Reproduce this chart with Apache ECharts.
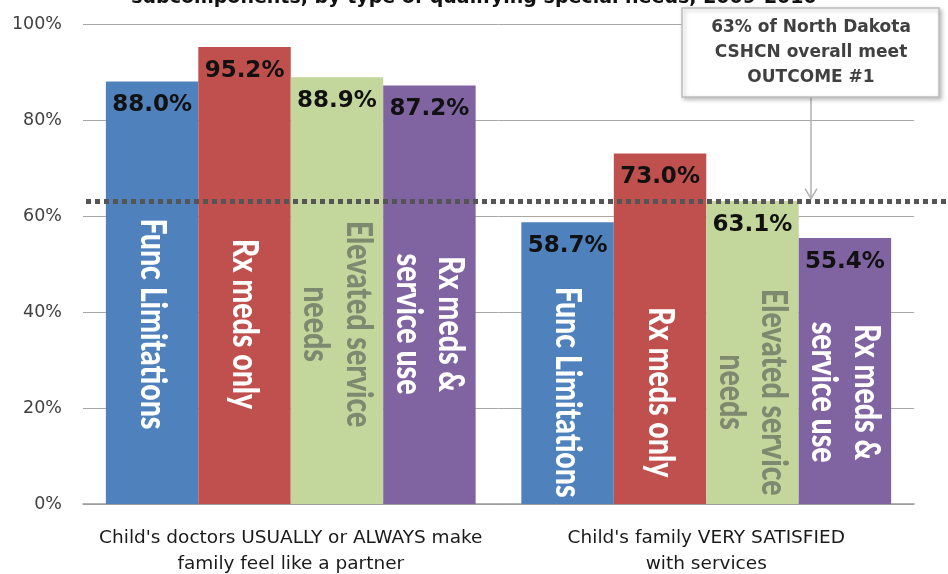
<!DOCTYPE html>
<html>
<head>
<meta charset="utf-8">
<script src="https://cdn.jsdelivr.net/npm/echarts@6/dist/echarts.min.js"></script>
<style>html,body{margin:0;padding:0;background:#fff;}#chart{width:948px;height:574px;}</style>
</head>
<body>
<div id="chart"></div>
<script>
// ---- data ----
var categories = ["Child's doctors USUALLY or ALWAYS make\nfamily feel like a partner", "Child's family VERY SATISFIED\nwith services"];
var seriesNames = ['Func Limitations', 'Rx meds only', 'Elevated service\nneeds', 'Rx meds &\nservice use'];
var funcLimitations = [88.0, 58.7];
var rxMedsOnly = [95.2, 73.0];
var elevatedService = [88.9, 63.1];
var rxMedsService = [87.2, 55.4];
var overallValue = 63;
var titleText = 'subcomponents, by type of qualifying special needs, 2009-2010';
var calloutLines = ['63% of North Dakota', 'CSHCN overall meet', 'OUTCOME #1'];
var yTicks = [0, 20, 40, 60, 80, 100];

// ---- styling ----
var colors = ['#4f81bd', '#c0504d', '#c3d69b', '#8064a2'];
var nameColors = ['#ffffff', '#ffffff', '#7d8a70', '#ffffff'];
var gapPct = 0.11;
var nameCenter = [37.5, 23.3];

var chart = echarts.init(document.getElementById('chart'), null, {renderer: 'canvas'});
var allValues = [funcLimitations, rxMedsOnly, elevatedService, rxMedsService];

var barSeries = allValues.map(function (vals, i) {
  return {
    type: 'bar',
    name: seriesNames[i].replace('\n', ' '),
    data: vals,
    barGap: '0%',
    barCategoryGap: (gapPct * 100) + '%',
    itemStyle: {color: colors[i]},
    label: {
      show: true,
      position: 'insideTop',
      distance: 12,
      formatter: function (p) { return p.value.toFixed(1) + '%'; },
      fontFamily: 'DejaVu Sans',
      fontWeight: 'bold',
      fontSize: 23,
      color: '#111'
    },
    z: 2
  };
});

var nameData = [];
for (var c = 0; c < categories.length; c++) {
  for (var i = 0; i < seriesNames.length; i++) nameData.push([c, i]);
}

var nameSeries = {
  type: 'custom',
  data: nameData,
  z: 5,
  silent: true,
  encode: {x: 0},
  renderItem: function (params, api) {
    var c = api.value(0), i = api.value(1);
    var catW = api.size([1, 0])[0];
    var pt = api.coord([c, nameCenter[c]]);
    var barW = catW * (1 - gapPct) / seriesNames.length;
    var x = pt[0] - barW * seriesNames.length / 2 + (i + 0.5) * barW;
    return {
      type: 'text',
      x: x,
      y: pt[1],
      rotation: -Math.PI / 2,
      scaleY: 1.25,
      style: {
        text: seriesNames[i],
        fontFamily: 'Lato',
        fontWeight: 900,
        fontSize: 28.5,
        lineHeight: 34,
        fill: nameColors[i],
        align: 'center',
        verticalAlign: 'middle'
      }
    };
  }
};

var option = {
  animation: false,
  backgroundColor: '#ffffff',
  title: {
    text: titleText,
    left: 'center',
    top: -16,
    textStyle: {fontFamily: 'DejaVu Sans', fontWeight: 'bold', fontSize: 19, color: '#111'}
  },
  grid: {left: 83, right: 34, top: 24, bottom: 70, containLabel: false, outerBoundsMode: 'none'},
  xAxis: {
    type: 'category',
    data: categories,
    axisTick: {show: false},
    axisLine: {lineStyle: {color: '#9a9a9a', width: 1.5}},
    axisLabel: {
      interval: 0,
      hideOverlap: false,
      margin: 21,
      fontFamily: 'DejaVu Sans',
      fontSize: 18.5,
      lineHeight: 26,
      color: '#1a1a1a'
    }
  },
  yAxis: {
    type: 'value',
    min: yTicks[0],
    max: yTicks[yTicks.length - 1],
    interval: 20,
    axisLine: {show: false},
    axisTick: {show: false},
    splitLine: {lineStyle: {color: '#a8a8a8', width: 1}},
    axisLabel: {
      formatter: '{value}%',
      margin: 21,
      fontFamily: 'DejaVu Sans',
      fontSize: 17.5,
      color: '#404040'
    }
  },
  series: barSeries.concat([nameSeries])
};

chart.setOption(option);

var yDot = chart.convertToPixel({yAxisIndex: 0}, overallValue);
var boxCx = 811;
chart.setOption({
  graphic: [
    {
      type: 'line', z: 10, silent: true,
      shape: {x1: 86, y1: yDot, x2: 946, y2: yDot},
      style: {stroke: '#555555', lineWidth: 5, lineDash: [5, 4]}
    },
    {
      type: 'line', z: 11, silent: true,
      shape: {x1: boxCx, y1: 97, x2: boxCx, y2: yDot - 3},
      style: {stroke: '#b0b0b0', lineWidth: 1.5}
    },
    {
      type: 'polyline', z: 11, silent: true,
      shape: {points: [[boxCx - 6, yDot - 13], [boxCx, yDot - 3], [boxCx + 6, yDot - 13]]},
      style: {stroke: '#b0b0b0', lineWidth: 1.5, fill: null}
    },
    {
      type: 'rect', z: 20, silent: true,
      shape: {x: 682, y: 8, width: 257, height: 89},
      style: {fill: '#ffffff', stroke: '#bdbdbd', lineWidth: 1.5,
        shadowBlur: 4, shadowColor: 'rgba(0,0,0,0.25)', shadowOffsetX: 2, shadowOffsetY: 2}
    },
    {
      type: 'text', z: 21, silent: true,
      x: boxCx, y: 53,
      style: {
        text: calloutLines.join('\n'),
        fontFamily: 'DejaVu Sans', fontWeight: 'bold', fontSize: 17, lineHeight: 25,
        fill: '#404040', align: 'center', verticalAlign: 'middle'
      }
    }
  ]
});
</script>
</body>
</html>
